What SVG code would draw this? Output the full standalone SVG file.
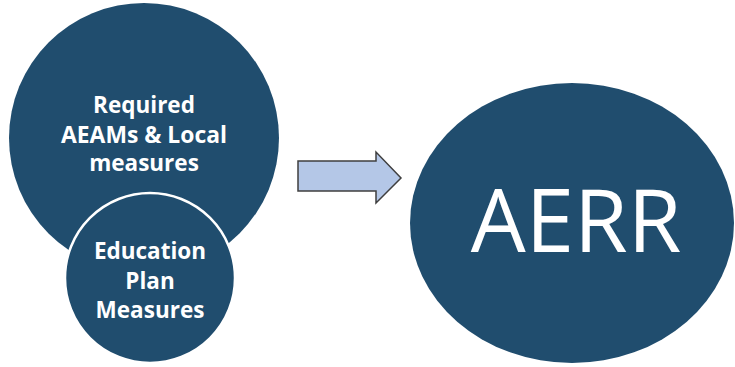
<svg xmlns="http://www.w3.org/2000/svg" width="735" height="367" viewBox="0 0 735 367">
<style>
.node{fill:#204D6E}
.lbl{fill:#FFFFFF;font-family:"Open Sans","Liberation Sans",sans-serif;font-weight:bold;font-size:22.5px;text-anchor:middle}
.big{fill:#FFFFFF;font-family:"Open Sans","Liberation Sans",sans-serif;font-size:87px;text-anchor:middle}
</style>
<rect width="735" height="367" fill="#FFFFFF"/>
<g id="required">
<circle class="node" cx="144" cy="138" r="135"/>
<text class="lbl"><tspan x="144" y="113">Required</tspan><tspan x="144" y="143" textLength="166" lengthAdjust="spacingAndGlyphs">AEAMs &amp; Local</tspan><tspan x="144" y="171">measures</tspan></text>
</g>
<g id="education">
<circle class="node" cx="150" cy="278" r="85" stroke="#FFFFFF" stroke-width="2.5"/>
<text class="lbl"><tspan x="150" y="259">Education</tspan><tspan x="150" y="289">Plan</tspan><tspan x="150" y="318">Measures</tspan></text>
</g>
<g id="connectors">
<polygon points="298,161 376,161 376,152 401,178 376,203 376,191 298,191" fill="#B4C7E7" stroke="#3F3F3F" stroke-width="1.5" stroke-linejoin="miter"/>
</g>
<g id="aerr">
<ellipse class="node" cx="572" cy="223" rx="162" ry="140"/>
<text class="big" x="576" y="252">AERR</text>
</g>
</svg>
